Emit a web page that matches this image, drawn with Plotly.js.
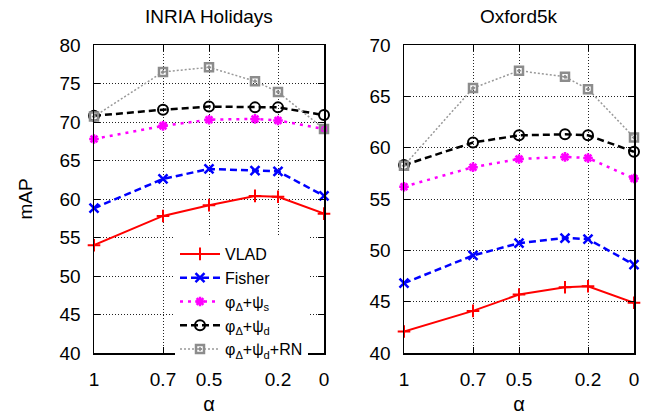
<!DOCTYPE html>
<html>
<head>
<meta charset="utf-8">
<script src="https://cdn.plot.ly/plotly-3.0.1.min.js"></script>
<style>html,body{margin:0;padding:0;background:#fff;}#chart{width:655px;height:415px;}</style>
</head>
<body>
<div id="chart"></div>
<script>
// x values (alpha)
const alpha = [1, 0.7, 0.5, 0.3, 0.2, 0];
const xTickVals = [1, 0.7, 0.5, 0.2, 0];
const xTickText = ['1', '0.7', '0.5', '0.2', '0'];

const seriesNames = ['VLAD', 'Fisher', 'φ<sub>Δ</sub>+ψ<sub>s</sub>', 'φ<sub>Δ</sub>+ψ<sub>d</sub>', 'φ<sub>Δ</sub>+ψ<sub>d</sub>+RN'];
const panelTitles = ['INRIA Holidays', 'Oxford5k'];

// INRIA Holidays (mAP)
const holVLAD   = [54.0, 57.8, 59.2, 60.4, 60.3, 58.1];
const holFisher = [58.8, 62.6, 63.9, 63.7, 63.6, 60.4];
const holPsiS   = [67.8, 69.5, 70.3, 70.4, 70.2, 69.1];
const holPsiD   = [70.8, 71.6, 72.0, 71.9, 71.9, 70.9];
const holRN     = [70.7, 76.5, 77.1, 75.3, 73.9, 69.1];

// Oxford5k (mAP)
const oxVLAD   = [42.1, 44.1, 45.7, 46.4, 46.5, 44.9];
const oxFisher = [46.8, 49.5, 50.7, 51.2, 51.1, 48.6];
const oxPsiS   = [56.2, 58.1, 58.9, 59.1, 59.0, 57.0];
const oxPsiD   = [58.3, 60.5, 61.2, 61.3, 61.2, 59.6];
const oxRN     = [58.25, 65.8, 67.5, 66.9, 65.7, 61.0];

const styles = [
  {line:{color:'#ff0000', width:2, dash:'solid'}, marker:{symbol:'cross-thin', size:9, color:'#ff0000', line:{color:'#ff0000', width:2}}},
  {line:{color:'#0000ff', width:2.5, dash:'7px,4px'}, marker:{symbol:'x-thin', size:9, color:'#0000ff', line:{color:'#0000ff', width:2.5}}},
  {line:{color:'#ff00ff', width:2.5, dash:'3px,5px'}, marker:{symbol:'asterisk', size:8, color:'#ff00ff', line:{color:'#ff00ff', width:2.5}}},
  {line:{color:'#000000', width:2.5, dash:'7px,4px'}, marker:{symbol:'circle-open', size:10, color:'#000000', line:{color:'#000000', width:2}}},
  {line:{color:'#999999', width:1.5, dash:'2px,2px'}, marker:{symbol:'square-open-dot', size:8, color:'#8c8c8c', line:{color:'#8c8c8c', width:2.5}}}
];

const holData = [holVLAD, holFisher, holPsiS, holPsiD, holRN];
const oxData = [oxVLAD, oxFisher, oxPsiS, oxPsiD, oxRN];

const traces = [];
holData.forEach((ys, i) => {
  traces.push({x: alpha, y: ys, name: seriesNames[i], type:'scatter', mode:'lines+markers',
    xaxis:'x', yaxis:'y', line: styles[i].line, marker: styles[i].marker, cliponaxis:false, showlegend:true, legendrank: i+1});
});
oxData.forEach((ys, i) => {
  traces.push({x: alpha, y: ys, name: seriesNames[i], type:'scatter', mode:'lines+markers',
    xaxis:'x2', yaxis:'y2', line: styles[i].line, marker: styles[i].marker, cliponaxis:false, showlegend:false});
});

const FONT = 'Liberation Sans, Arial, sans-serif';
const gridCommon = {showgrid:true, gridcolor:'#222', gridwidth:1, griddash:'1px,2px', zeroline:false,
  showline:true, linecolor:'#000', linewidth:1.5, mirror:'ticks', ticks:'inside', ticklen:6, tickcolor:'#000', tickwidth:1,
  tickfont:{family:FONT, size:19, color:'#000'}};

const W = 655, H = 415, ml = 94, mr = 21, mt = 45, mb = 62;
const pw = W - ml - mr;

const layout = {
  width: W, height: H,
  margin: {l: ml, r: mr, t: mt, b: mb, pad: 0},
  paper_bgcolor:'#fff', plot_bgcolor:'#fff',
  font:{family:FONT, size:19, color:'#000'},
  showlegend:true,
  legend:{x: (308-ml)/pw, y: 1-(237-mt)/(H-mt-mb), xanchor:'right', yanchor:'top', bgcolor:'#fff', borderwidth:0,
    font:{family:FONT, size:16, color:'#000'}, tracegroupgap:0, itemwidth:40},
  xaxis: Object.assign({}, gridCommon, {domain:[0, 230/pw], range:[1, 0], autorange:false, tickvals:xTickVals, ticktext:xTickText,
    ticklabelstandoff:9, title:{text:'α', font:{family:FONT, size:20}, standoff:8}}),
  yaxis: Object.assign({}, gridCommon, {range:[40, 80], autorange:false, dtick:5, tick0:40, ticklabelstandoff:8,
    title:{text:'mAP', font:{family:FONT, size:19}, standoff:22}}),
  xaxis2: Object.assign({}, gridCommon, {domain:[310/pw, 1], range:[1, 0], autorange:false, tickvals:xTickVals, ticktext:xTickText,
    anchor:'y2', ticklabelstandoff:9, title:{text:'α', font:{family:FONT, size:20}, standoff:8}}),
  yaxis2: Object.assign({}, gridCommon, {range:[40, 70], autorange:false, dtick:5, tick0:40, anchor:'x2', ticklabelstandoff:8}),
  annotations: [
    {text: panelTitles[0], xref:'x domain', yref:'paper', x:0.5, y:1, yshift:29, xanchor:'center', yanchor:'middle', showarrow:false,
     font:{family:FONT, size:19, color:'#000'}},
    {text: panelTitles[1], xref:'x2 domain', yref:'paper', x:0.5, y:1, yshift:29, xanchor:'center', yanchor:'middle', showarrow:false,
     font:{family:FONT, size:19, color:'#000'}}
  ]
};

Plotly.newPlot('chart', traces, layout, {displayModeBar:false, staticPlot:true});
</script>
</body>
</html>
